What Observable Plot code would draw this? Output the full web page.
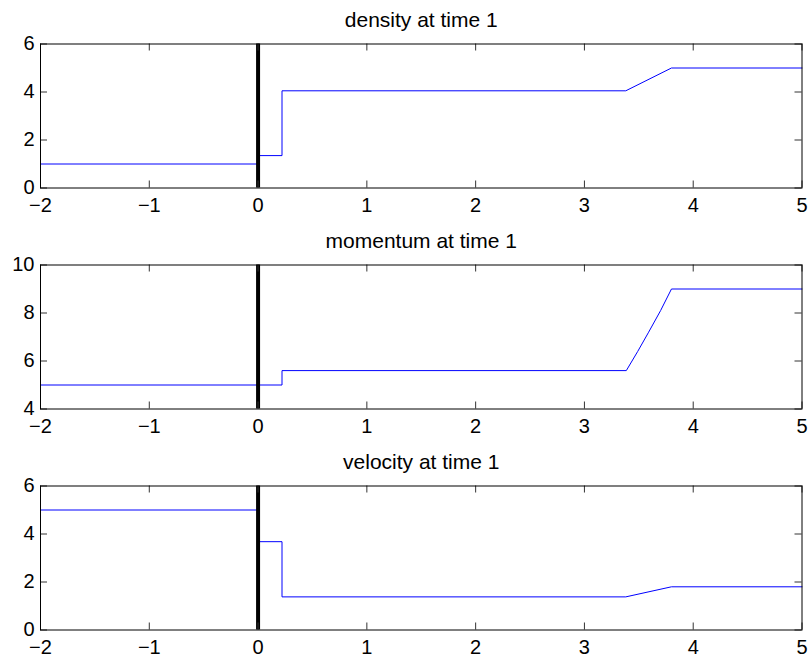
<!DOCTYPE html>
<html><head><meta charset="utf-8">
<script src="https://cdn.jsdelivr.net/npm/d3@7"></script>
<script src="https://cdn.jsdelivr.net/npm/@observablehq/plot@0.6"></script>
<style>body{margin:0;background:#fff} svg{display:block}</style>
</head><body><div id="chart"></div>
<script>
const xTicks = [-2, -1, 0, 1, 2, 3, 4, 5];
const xTickLabels = ["−2", "−1", "0", "1", "2", "3", "4", "5"];

const densityTitle = "density at time 1";
const densityX = [-2, 0, 0, 0.22, 0.22, 3.38, 3.8, 5];
const densityY = [1, 1, 1.35, 1.35, 4.05, 4.05, 5, 5];
const densityTicks = [0, 2, 4, 6];

const momentumTitle = "momentum at time 1";
const momentumX = [-2, 0, 0.22, 0.22, 3.385, 3.49, 3.59, 3.70, 3.80, 5];
const momentumY = [5, 5, 5, 5.6, 5.6, 6.4, 7.2, 8.1, 9, 9];
const momentumTicks = [4, 6, 8, 10];

const velocityTitle = "velocity at time 1";
const velocityX = [-2, 0, 0, 0.22, 0.22, 3.38, 3.8, 5];
const velocityY = [5, 5, 3.68, 3.68, 1.38, 1.38, 1.8, 1.8];
const velocityTicks = [0, 2, 4, 6];

function panel(title, xs, ys, yTicks) {
  const data = xs.map((x, i) => ({x, y: ys[i]}));
  const W = 811, H = 221, mt = 43.5, mb = 33.5, ml = 40, mr = 9.5;
  const ph = H - mt - mb, pw = W - ml - mr, tl = 7;
  const fmt = d => xTickLabels[xTicks.indexOf(d)];
  return Plot.plot({
    width: W, height: H,
    marginTop: mt, marginBottom: mb, marginLeft: ml, marginRight: mr,
    x: {domain: [xTicks[0], xTicks[xTicks.length - 1]]},
    y: {domain: [yTicks[0], yTicks[yTicks.length - 1]]},
    style: {fontFamily: "'Liberation Sans', Arial, Helvetica, sans-serif", fontSize: "20px", color: "black", background: "white"},
    marks: [
      Plot.line(data, {x: "x", y: "y", stroke: "#0000ff", strokeWidth: 1}),
      Plot.ruleX([0], {stroke: "black", strokeWidth: 4}),
      Plot.tickX(xTicks, {x: d => d, insetTop: ph - tl, stroke: "#333"}),
      Plot.tickX(xTicks, {x: d => d, insetBottom: ph - tl, stroke: "#333"}),
      Plot.tickY(yTicks, {y: d => d, insetRight: pw - tl, stroke: "#333"}),
      Plot.tickY(yTicks, {y: d => d, insetLeft: pw - tl, stroke: "#333"}),
      Plot.frame({stroke: "black", strokeWidth: 1}),
      Plot.axisX(xTicks, {tickSize: 0, tickPadding: 10, tickFormat: fmt, fontSize: 20, label: null}),
      Plot.axisY(yTicks, {tickSize: 0, tickPadding: 6, fontSize: 20, label: null}),
      Plot.text([title], {frameAnchor: "top", dy: -17, lineAnchor: "bottom", fontSize: 21})
    ]
  });
}

const chart = document.getElementById("chart");
chart.append(panel(densityTitle, densityX, densityY, densityTicks));
chart.append(panel(momentumTitle, momentumX, momentumY, momentumTicks));
chart.append(panel(velocityTitle, velocityX, velocityY, velocityTicks));
</script>
</body></html>
